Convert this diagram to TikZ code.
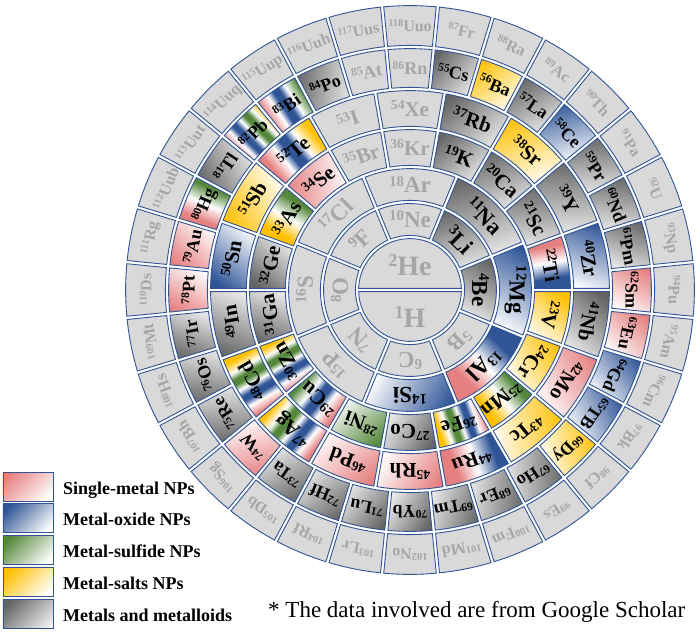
\documentclass[tikz,border=0pt]{standalone}
\usepackage{fontspec}
\setmainfont{Liberation Serif}
\usepackage{graphicx}
\definecolor{bc}{RGB}{47,85,151}
\definecolor{pinkc}{RGB}{230,128,128}
\definecolor{bluec}{RGB}{47,85,151}
\definecolor{greenc}{RGB}{84,135,58}
\definecolor{yellowc}{RGB}{255,192,0}
\definecolor{grayc}{RGB}{100,100,100}
\definecolor{grayl}{RGB}{240,240,240}
\definecolor{offfill}{RGB}{217,217,217}
\definecolor{offtext}{RGB}{166,166,166}
\pgfdeclarehorizontalshading{shP}{100bp}{color(0bp)=(pinkc); color(22bp)=(pinkc); color(78bp)=(white); color(100bp)=(white)}
\pgfdeclarehorizontalshading{shB}{100bp}{color(0bp)=(bluec); color(22bp)=(bluec); color(78bp)=(white); color(100bp)=(white)}
\pgfdeclarehorizontalshading{shG}{100bp}{color(0bp)=(greenc); color(22bp)=(greenc); color(78bp)=(white); color(100bp)=(white)}
\pgfdeclarehorizontalshading{shY}{100bp}{color(0bp)=(yellowc); color(22bp)=(yellowc); color(78bp)=(white); color(100bp)=(white)}
\pgfdeclarehorizontalshading{shK}{100bp}{color(0bp)=(grayc); color(22bp)=(grayc); color(80bp)=(grayl); color(100bp)=(grayl)}
\pgfdeclarehorizontalshading{shPB}{100bp}{color(0bp)=(pinkc); color(34bp)=(pinkc); color(50bp)=(white); color(66bp)=(bluec); color(100bp)=(bluec)}
\pgfdeclarehorizontalshading{shBP}{100bp}{color(0bp)=(bluec); color(34bp)=(bluec); color(50bp)=(white); color(66bp)=(pinkc); color(100bp)=(pinkc)}
\pgfdeclarehorizontalshading{shYG}{100bp}{color(0bp)=(yellowc); color(34bp)=(yellowc); color(50bp)=(white); color(66bp)=(greenc); color(100bp)=(greenc)}
\pgfdeclarehorizontalshading{shGY}{100bp}{color(0bp)=(greenc); color(34bp)=(greenc); color(50bp)=(white); color(66bp)=(yellowc); color(100bp)=(yellowc)}
\pgfdeclarehorizontalshading{shGP}{100bp}{color(0bp)=(greenc); color(34bp)=(greenc); color(50bp)=(white); color(66bp)=(pinkc); color(100bp)=(pinkc)}
\pgfdeclarehorizontalshading{shGBP}{100bp}{color(0bp)=(greenc); color(30bp)=(greenc); color(41bp)=(white); color(47bp)=(bluec); color(53bp)=(bluec); color(59bp)=(white); color(70bp)=(pinkc); color(100bp)=(pinkc)}
\pgfdeclarehorizontalshading{shYBP}{100bp}{color(0bp)=(yellowc); color(30bp)=(yellowc); color(41bp)=(white); color(47bp)=(bluec); color(53bp)=(bluec); color(59bp)=(white); color(70bp)=(pinkc); color(100bp)=(pinkc)}
\pgfdeclarehorizontalshading{shYGBP}{100bp}{color(0bp)=(yellowc); color(28bp)=(yellowc); color(36bp)=(white); color(41bp)=(greenc); color(45bp)=(greenc); color(50bp)=(white); color(55bp)=(bluec); color(59bp)=(bluec); color(64bp)=(white); color(72bp)=(pinkc); color(100bp)=(pinkc)}
\newcommand\el[2]{\raisebox{0.3em}{\scalebox{0.65}{#1}}#2}
\def\gp{1.6}
\def\offname{X}
\newcommand\drawcell[7]{%
  \pgfmathsetmacro\tmid{(#3+#4)/2}%
  \pgfmathsetmacro\rmid{(#1+#2)/2}%
  \pgfmathsetmacro\Ro{#2-\gp}%
  \pgfmathsetmacro\Ri{#1+\gp}%
  \pgfmathsetmacro\aoA{90-#3-asin(\gp/\Ro)}%
  \pgfmathsetmacro\aoB{90-#4+asin(\gp/\Ro)}%
  \pgfmathsetmacro\aiA{90-#3-asin(\gp/\Ri)}%
  \pgfmathsetmacro\aiB{90-#4+asin(\gp/\Ri)}%
  \pgfmathsetmacro\angM{-30-\tmid}%
  \pgfmathsetmacro\angS{-180-\tmid}%
  \pgfmathsetmacro\tpos{90-\tmid}%
  \edef\stname{#5}%
  \ifx\stname\offname\def\lc{offtext}\else\def\lc{black}\fi
  \tikzset{cellsty/.style/.expanded={c#5}}%
  \path[cellline, cellsty] (\aoA:\Ro) arc[start angle=\aoA, end angle=\aoB, radius=\Ro] -- (\aiB:\Ri) arc[start angle=\aiB, end angle=\aiA, radius=\Ri] -- cycle;
  \node[text=\lc, rotate=-\tmid, inner sep=0pt, font={\fontsize{#7}{#7}\selectfont\bfseries}] at (\tpos:\rmid) {#6};
}
\tikzset{
  cellline/.style={draw=bc, line width=0.9pt},
  cX/.style={fill=offfill},
  cP/.style={shade, shading=shP, shading angle=\angM},
  cB/.style={shade, shading=shB, shading angle=\angM},
  cG/.style={shade, shading=shG, shading angle=\angM},
  cY/.style={shade, shading=shY, shading angle=\angM},
  cK/.style={shade, shading=shK, shading angle=\angM},
  cPB/.style={shade, shading=shPB, shading angle=\angS},
  cBP/.style={shade, shading=shBP, shading angle=\angS},
  cYG/.style={shade, shading=shYG, shading angle=\angS},
  cGY/.style={shade, shading=shGY, shading angle=\angS},
  cGP/.style={shade, shading=shGP, shading angle=\angS},
  cGBP/.style={shade, shading=shGBP, shading angle=\angS},
  cYBP/.style={shade, shading=shYBP, shading angle=\angS},
  cYGBP/.style={shade, shading=shYGBP, shading angle=\angS},
  legbox/.style={draw=bc, line width=0.9pt, shade, shading angle=-45},
  legtext/.style={anchor=base west, inner sep=0pt, font={\fontsize{18}{18}\selectfont\bfseries}}
}
\begin{document}
\begin{tikzpicture}[x=1pt,y=1pt]
\useasboundingbox (-410,-342) rectangle (290,290);
% ring 0
\pgfmathsetmacro\Rz{53-\gp}
\pgfmathsetmacro\hA{asin(\gp/\Rz)}
\path[cellline, cX] (\hA:\Rz) arc[start angle=\hA, end angle=180-\hA, radius=\Rz] -- cycle;
\path[cellline, cX] (180+\hA:\Rz) arc[start angle=180+\hA, end angle=360-\hA, radius=\Rz] -- cycle;
\node[text=offtext, inner sep=0pt, font={\fontsize{28}{28}\selectfont\bfseries}] (e2) at (0,25) {\el{2}{He}};
\node[text=offtext, inner sep=0pt, font={\fontsize{28}{28}\selectfont\bfseries}] (e1) at (0,-27) {\el{1}{H}};
% ring 1
\foreach \z/\s/\st [count=\k] in {3/Li/K,4/Be/K,5/B/X,6/C/X,7/N/X,8/O/X,9/F/X,10/Ne/X}{
  \pgfmathsetmacro\ts{\k*45-22.5}\pgfmathsetmacro\te{\k*45+22.5}
  \drawcell{53}{88}{\ts}{\te}{\st}{\el{\z}{\s}}{23}}
% ring 2
\foreach \z/\s/\st [count=\k] in {11/Na/K,12/Mg/B,13/Al/PB,14/Si/B,15/P/X,16/S/X,17/Cl/X,18/Ar/X}{
  \pgfmathsetmacro\ts{\k*45-22.5}\pgfmathsetmacro\te{\k*45+22.5}
  \drawcell{88}{123}{\ts}{\te}{\st}{\el{\z}{\s}}{23}}
% ring 3
\foreach \z/\s/\st [count=\k] in {19/K/K,20/Ca/K,21/Sc/K,22/Ti/BP,23/V/Y,24/Cr/Y,25/Mn/YG,26/Fe/YGBP,27/Co/K,28/Ni/G,29/Cu/GBP,30/Zn/YGBP,31/Ga/K,32/Ge/K,33/As/GY,34/Se/P,35/Br/X,36/Kr/X}{
  \pgfmathsetmacro\ts{\k*20-10}\pgfmathsetmacro\te{\k*20+10}
  \drawcell{123}{162}{\ts}{\te}{\st}{\el{\z}{\s}}{21}}
% ring 4
\foreach \z/\s/\st [count=\k] in {37/Rb/K,38/Sr/Y,39/Y/K,40/Zr/B,41/Nb/K,42/Mo/P,43/Tc/Y,44/Ru/PB,45/Rh/P,46/Pd/P,47/Ag/YGBP,48/Cd/YGBP,49/In/K,50/Sn/B,51/Sb/Y,52/Te/YBP,53/I/X,54/Xe/X}{
  \pgfmathsetmacro\ts{\k*20-10}\pgfmathsetmacro\te{\k*20+10}
  \drawcell{162}{201}{\ts}{\te}{\st}{\el{\z}{\s}}{21}}
% ring 5
\foreach \z/\s/\st [count=\k] in {55/Cs/K,56/Ba/Y,57/La/K,58/Ce/B,59/Pr/K,60/Nd/K,61/Pm/K,62/Sm/P,63/Eu/P,64/Gd/B,65/TB/B,66/Dy/Y,67/Ho/K,68/Er/K,69/Tm/K,70/Yb/K,71/Lu/K,72/Hf/K,73/Ta/K,74/W/P,75/Re/K,76/Os/K,77/Ir/K,78/Pt/P,79/Au/P,80/Hg/GP,81/Tl/K,82/Pb/YGBP,83/Bi/GBP,84/Po/K,85/At/X,86/Rn/X}{
  \pgfmathsetmacro\ts{\k*11.25-5.625}\pgfmathsetmacro\te{\k*11.25+5.625}
  \drawcell{201}{243}{\ts}{\te}{\st}{\el{\z}{\s}}{18}}
% ring 6
\foreach \z/\s [count=\k] in {87/Fr,88/Ra,89/Ac,90/Th,91/Pa,92/U,93/Np,94/Pu,95/Am,96/Cm,97/Bk,98/Cf,99/Es,100/Fm,101/Md,102/No,103/Lr,104/Rf,105/Db,106/Sg,107/Bh,108/Hs,109/Mt,110/Ds,111/Rg,112/Uub,113/Uut,114/Uuq,115/Uup,116/Uuh,117/Uus,118/Uuo}{
  \pgfmathsetmacro\ts{\k*11.25-5.625}\pgfmathsetmacro\te{\k*11.25+5.625}
  \drawcell{243}{286}{\ts}{\te}{X}{\el{\z}{\s}}{16}}
% legend
\foreach \sh/\txt [count=\i from 0] in {shP/Single-metal NPs,shB/Metal-oxide NPs,shG/Metal-sulfide NPs,shY/Metal-salts NPs,shK/Metals and metalloids}{
  \pgfmathsetmacro\yt{-182-31.9*\i}
  \path[legbox, shading=\sh] (-407,\yt) rectangle (-357,\yt-29) coordinate (lb\i);
  \node[legtext] (lt\i) at (-347,\yt-22) {\txt};
}
\node[anchor=base west, inner sep=0pt, font={\fontsize{23}{23}\selectfont}] (note) at (-142,-327) {* The data involved are from Google Scholar};
\end{tikzpicture}
\end{document}
